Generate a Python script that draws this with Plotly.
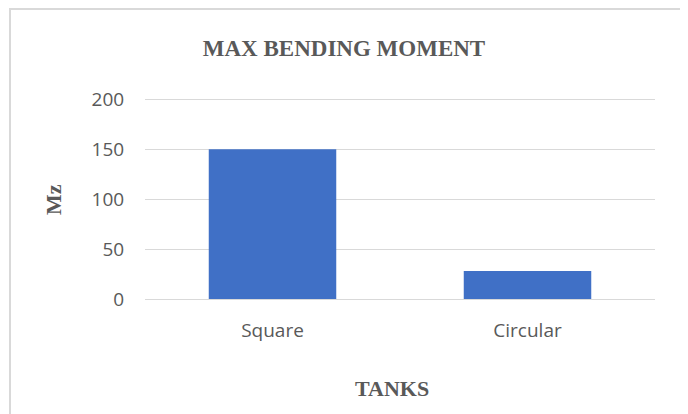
import plotly.graph_objects as go

categories = ["Square", "Circular"]
values = [150, 28]
y_ticks = [0, 50, 100, 150, 200]

OFF = 8  # page body margin
W, H = 680, 406
L, R, T, B = 137, 33, 90, 115
pw, ph = W - L - R, H - T - B

def px_x(x):
    return (x - OFF - L) / pw

def px_y(y):
    return (H - B - (y - OFF)) / ph

fig = go.Figure()
fig.add_trace(go.Bar(
    x=categories, y=values,
    marker=dict(color="#4070c6", line=dict(width=0)),
    width=0.5,
))

grey = "#595959"
fig.update_layout(
    width=W, height=H,
    margin=dict(l=L, r=R, t=T, b=B),
    paper_bgcolor="white", plot_bgcolor="white",
    showlegend=False,
    title=dict(text="<b>MAX BENDING MOMENT</b>", x=(344 - OFF) / W, xanchor="center",
               y=1 - (48 - OFF) / H, yanchor="middle",
               font=dict(family="Liberation Serif", size=23, color=grey)),
    xaxis=dict(showgrid=False, showline=False, zeroline=False,
               tickfont=dict(family="Open Sans", size=19, color=grey),
               ticks="outside", ticklen=14, tickcolor="rgba(0,0,0,0)"),
    yaxis=dict(range=[0, 201.5], tickvals=y_ticks, showgrid=True,
               gridcolor="#d9d9d9", gridwidth=1, zeroline=True,
               zerolinecolor="#d9d9d9", zerolinewidth=1, showline=False,
               tickfont=dict(family="Open Sans", size=19, color=grey),
               ticks="outside", ticklen=16, tickcolor="rgba(0,0,0,0)"),
    shapes=[dict(type="rect", xref="paper", yref="paper",
                 x0=px_x(10), x1=px_x(682), y0=px_y(440), y1=px_y(9),
                 line=dict(color="#d9d9d9", width=2), fillcolor="rgba(0,0,0,0)",
                 layer="below")],
    annotations=[
        dict(text="<b>Mz</b>", xref="paper", yref="paper", x=px_x(53), y=px_y(200),
             xanchor="center", yanchor="middle",
             showarrow=False, textangle=-90,
             font=dict(family="Liberation Serif", size=22, color=grey)),
        dict(text="<b>TANKS</b>", xref="paper", yref="paper", x=px_x(392), y=px_y(388),
             xanchor="center", yanchor="middle",
             showarrow=False,
             font=dict(family="Liberation Serif", size=22, color=grey)),
    ],
)

fig.write_html("out.html")
